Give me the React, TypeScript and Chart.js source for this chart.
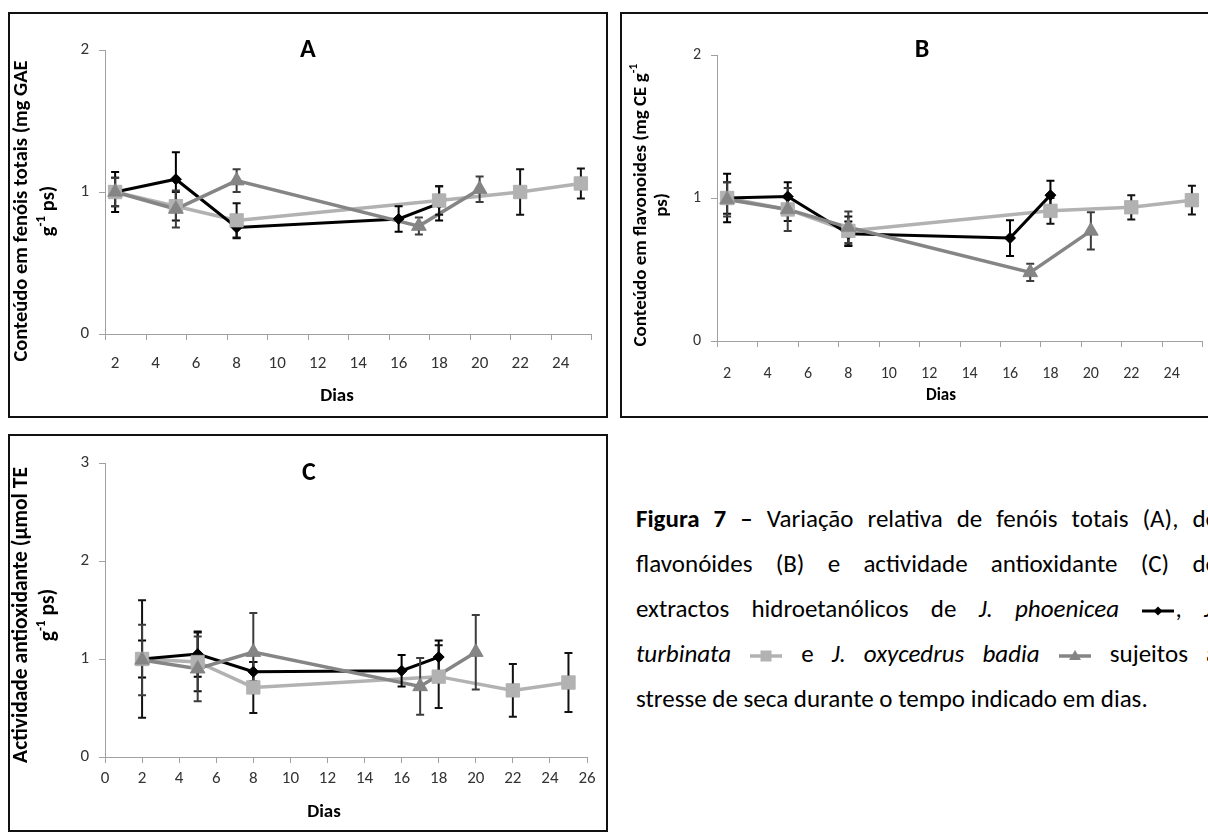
import React, { useEffect, useRef } from 'react';
import { Chart, registerables } from 'chart.js';

Chart.register(...registerables);

const FONT = 'Carlito, Calibri, Lato, "Liberation Sans", sans-serif';
Chart.defaults.font.family = FONT;

// ---------------- data ----------------
const daysPhoenicea = [2, 5, 8, 16, 18];
const daysTurbinata = [2, 5, 8, 18, 22, 25];
const daysOxycedrus = [2, 5, 8, 17, 20];

// A – fenóis totais
const phenolPhoenicea = [1.0, 1.09, 0.75, 0.81, 0.92];
const phenolPhoeniceaErr = [0.14, 0.19, 0.075, 0.09, 0.12];
const phenolTurbinata = [1.0, 0.9, 0.8, 0.94, 1.0, 1.06];
const phenolTurbinataErr = [0.1, 0.1, 0.12, 0.1, 0.16, 0.105];
const phenolOxycedrus = [1.0, 0.88, 1.08, 0.76, 1.02];
const phenolOxycedrusErr = [0.1, 0.13, 0.08, 0.06, 0.09];

// B – flavonoides
const flavPhoenicea = [1.0, 1.01, 0.75, 0.72, 1.02];
const flavPhoeniceaErr = [0.17, 0.1, 0.085, 0.125, 0.1];
const flavTurbinata = [1.0, 0.92, 0.77, 0.91, 0.935, 0.985];
const flavTurbinataErr = [0.11, 0.08, 0.1, 0.09, 0.085, 0.1];
const flavOxycedrus = [0.99, 0.92, 0.795, 0.48, 0.77];
const flavOxycedrusErr = [0.12, 0.15, 0.11, 0.06, 0.13];

// C – actividade antioxidante
const antiPhoenicea = [1.0, 1.05, 0.87, 0.88, 1.02];
const antiPhoeniceaErr = [0.19, 0.23, 0.1, 0.16, 0.17];
const antiTurbinata = [1.0, 0.97, 0.71, 0.82, 0.68, 0.76];
const antiTurbinataErr = [0.6, 0.3, 0.26, 0.32, 0.27, 0.3];
const antiOxycedrus = [0.99, 0.9, 1.07, 0.72, 1.07];
const antiOxycedrusErr = [0.36, 0.33, 0.4, 0.29, 0.38];

const xTickLabelsAB = [2, 4, 6, 8, 10, 12, 14, 16, 18, 20, 22, 24];
const xTickLabelsC = [0, 2, 4, 6, 8, 10, 12, 14, 16, 18, 20, 22, 24, 26];
const yTicksAB = [0, 1, 2];
const yTicksC = [0, 1, 2, 3];

const speciesNames = ['J. phoenicea', 'J. turbinata', 'J. oxycedrus badia'];

// ---------------- styles ----------------
const AXIS = '#a0a0a0';
const TICK = '#333333';
const C_PHOEN = '#000000';
const C_TURB = '#b2b2b2';
const C_OXY = '#858585';

type Seg = { t: string; sup?: boolean };
type Panel = {
  letter: string;
  w: number;
  h: number;
  area: { left: number; top: number; right: number; bottom: number };
  xMin: number;
  xMax: number;
  xLabels: number[];
  betweenTicks: boolean;
  yMax: number;
  yTicks: number[];
  xLabelPad: number;
  tickSize: number;
  titleSize: number;
  diasSize: number;
  series: { days: number[]; vals: number[]; err: number[] }[];
  yTitle: Seg[][];
  yTitleX: number[];
  yTitleY: number;
  letterPos: [number, number];
  diasPos: [number, number];
};

function drawSegs(ctx: CanvasRenderingContext2D, segs: Seg[], size: number) {
  const fonts = segs.map((s) => `bold ${s.sup ? Math.round(size * 0.62) : size}px ${FONT}`);
  let total = 0;
  const widths = segs.map((s, i) => {
    ctx.font = fonts[i];
    const w = ctx.measureText(s.t).width;
    total += w;
    return w;
  });
  let x = -total / 2;
  segs.forEach((s, i) => {
    ctx.font = fonts[i];
    ctx.fillText(s.t, x, s.sup ? -size * 0.36 : 0);
    x += widths[i];
  });
}

function makeConfig(p: Panel): any {
  const styles = [
    { color: C_PHOEN, style: 'rectRot', radius: 5.5, lw: 3, err: '#000000', order: 1 },
    { color: C_TURB, style: 'rect', radius: 9.5, lw: 3.5, err: '#111111', order: 2 },
    { color: C_OXY, style: 'triangle', radius: 8.5, lw: 3.5, err: '#3c3c3c', order: 0 },
  ];
  const datasets = p.series.map((s, i) => ({
    label: speciesNames[i],
    data: s.days.map((d, j) => ({ x: d, y: s.vals[j] })),
    errors: s.err,
    errColor: styles[i].err,
    showLine: true,
    borderColor: styles[i].color,
    backgroundColor: styles[i].color,
    borderWidth: styles[i].lw,
    pointStyle: styles[i].style,
    pointRadius: styles[i].radius,
    pointHoverRadius: styles[i].radius,
    pointBorderWidth: 0.5,
    pointBorderColor: styles[i].color,
    pointBackgroundColor: styles[i].color,
    tension: 0,
    order: styles[i].order,
    clip: false,
  }));

  const decor = {
    id: 'decor',
    afterDatasetsDraw(chart: any) {
      const ctx = chart.ctx as CanvasRenderingContext2D;
      const xs = chart.scales.x;
      const ys = chart.scales.y;
      chart.data.datasets.forEach((ds: any) => {
        ctx.save();
        ctx.strokeStyle = ds.errColor;
        ctx.lineWidth = 2;
        ds.data.forEach((pt: any, j: number) => {
          const e = ds.errors[j];
          const x = xs.getPixelForValue(pt.x);
          const y1 = ys.getPixelForValue(pt.y + e);
          const y2 = ys.getPixelForValue(pt.y - e);
          ctx.beginPath();
          ctx.moveTo(x, y1);
          ctx.lineTo(x, y2);
          ctx.moveTo(x - 4, y1);
          ctx.lineTo(x + 4, y1);
          ctx.moveTo(x - 4, y2);
          ctx.lineTo(x + 4, y2);
          ctx.stroke();
        });
        ctx.restore();
      });
      [0, 1, 2].forEach((i) => {
        chart.getDatasetMeta(i).data.forEach((el: any) => el.draw(ctx, chart.chartArea));
      });
    },
    afterDraw(chart: any) {
      const ctx = chart.ctx as CanvasRenderingContext2D;
      const xs = chart.scales.x;
      const area = chart.chartArea;
      ctx.save();
      if (p.betweenTicks) {
        ctx.strokeStyle = AXIS;
        ctx.lineWidth = 1;
        for (let v = p.xMin; v <= p.xMax + 1e-6; v += 2) {
          const px = Math.round(xs.getPixelForValue(v)) + 0.5;
          ctx.beginPath();
          ctx.moveTo(px, area.bottom);
          ctx.lineTo(px, area.bottom + 6);
          ctx.stroke();
        }
      }
      ctx.fillStyle = '#000';
      ctx.textAlign = 'center';
      ctx.textBaseline = 'middle';
      ctx.font = `bold 26px ${FONT}`;
      ctx.fillText(p.letter, p.letterPos[0], p.letterPos[1]);
      ctx.font = `bold ${p.diasSize}px ${FONT}`;
      ctx.fillText('Dias', p.diasPos[0], p.diasPos[1]);
      ctx.textAlign = 'left';
      p.yTitle.forEach((line, i) => {
        ctx.save();
        ctx.translate(p.yTitleX[i], p.yTitleY);
        ctx.rotate(-Math.PI / 2);
        drawSegs(ctx, line, p.titleSize);
        ctx.restore();
      });
      ctx.restore();
    },
  };

  return {
    type: 'scatter',
    data: { datasets },
    plugins: [decor],
    options: {
      responsive: false,
      animation: false,
      events: [],
      layout: { padding: { left: 0, top: p.area.top, right: p.w - p.area.right, bottom: 0 } },
      plugins: { legend: { display: false }, tooltip: { enabled: false }, title: { display: false } },
      scales: {
        x: {
          type: 'linear',
          min: p.xMin,
          max: p.xMax,
          afterBuildTicks: (s: any) => {
            s.ticks = p.xLabels.map((v) => ({ value: v }));
          },
          afterFit: (s: any) => {
            s.height = p.h - p.area.bottom;
          },
          grid: {
            display: true,
            drawOnChartArea: false,
            drawTicks: !p.betweenTicks,
            tickLength: 6,
            color: AXIS,
          },
          border: { display: true, color: AXIS, width: 1 },
          ticks: {
            font: { size: p.tickSize },
            color: TICK,
            padding: p.xLabelPad,
            maxRotation: 0,
            autoSkip: false,
            callback: (v: any) => String(v),
          },
        },
        y: {
          type: 'linear',
          min: 0,
          max: p.yMax,
          afterBuildTicks: (s: any) => {
            s.ticks = p.yTicks.map((v) => ({ value: v }));
          },
          afterFit: (s: any) => {
            s.width = p.area.left;
          },
          grid: { display: true, drawOnChartArea: false, drawTicks: true, tickLength: 6, color: AXIS },
          border: { display: true, color: AXIS, width: 1 },
          ticks: { font: { size: p.tickSize }, color: TICK, padding: 10, callback: (v: any) => String(v) },
        },
      },
    },
  };
}

const panelA: Panel = {
  letter: 'A',
  w: 600,
  h: 406,
  area: { left: 97, top: 38, right: 583, bottom: 322 },
  xMin: 1.5,
  xMax: 25.5,
  xLabels: xTickLabelsAB,
  betweenTicks: true,
  yMax: 2,
  yTicks: yTicksAB,
  xLabelPad: 20,
  tickSize: 17,
  titleSize: 20.5,
  diasSize: 19,
  series: [
    { days: daysPhoenicea, vals: phenolPhoenicea, err: phenolPhoeniceaErr },
    { days: daysTurbinata, vals: phenolTurbinata, err: phenolTurbinataErr },
    { days: daysOxycedrus, vals: phenolOxycedrus, err: phenolOxycedrusErr },
  ],
  yTitle: [[{ t: 'Conteúdo em fenóis totais (mg GAE' }], [{ t: 'g' }, { t: '-1', sup: true }, { t: ' ps)' }]],
  yTitleX: [14, 41],
  yTitleY: 199,
  letterPos: [300, 38],
  diasPos: [329, 384],
};

const panelB: Panel = {
  letter: 'B',
  w: 600,
  h: 406,
  area: { left: 97, top: 43, right: 582, bottom: 329 },
  xMin: 1.5,
  xMax: 25.5,
  xLabels: xTickLabelsAB,
  betweenTicks: true,
  yMax: 2,
  yTicks: yTicksAB,
  xLabelPad: 23,
  tickSize: 16,
  titleSize: 19,
  diasSize: 17,
  series: [
    { days: daysPhoenicea, vals: flavPhoenicea, err: flavPhoeniceaErr },
    { days: daysTurbinata, vals: flavTurbinata, err: flavTurbinataErr },
    { days: daysOxycedrus, vals: flavOxycedrus, err: flavOxycedrusErr },
  ],
  yTitle: [[{ t: 'Conteúdo em flavonoides (mg CE g' }, { t: '-1', sup: true }], [{ t: 'ps)' }]],
  yTitleX: [21, 42],
  yTitleY: 193,
  letterPos: [302, 38],
  diasPos: [321, 384],
};

const panelC: Panel = {
  letter: 'C',
  w: 600,
  h: 398,
  area: { left: 97, top: 29, right: 579, bottom: 323 },
  xMin: 0,
  xMax: 26,
  xLabels: xTickLabelsC,
  betweenTicks: false,
  yMax: 3,
  yTicks: yTicksC,
  xLabelPad: 6,
  tickSize: 17,
  titleSize: 21.5,
  diasSize: 19,
  series: [
    { days: daysPhoenicea, vals: antiPhoenicea, err: antiPhoeniceaErr },
    { days: daysTurbinata, vals: antiTurbinata, err: antiTurbinataErr },
    { days: daysOxycedrus, vals: antiOxycedrus, err: antiOxycedrusErr },
  ],
  yTitle: [[{ t: 'Actividade antioxidante (µmol TE' }], [{ t: 'g' }, { t: '-1', sup: true }, { t: ' ps)' }]],
  yTitleX: [14, 41],
  yTitleY: 181,
  letterPos: [301, 39],
  diasPos: [316, 378],
};

function PanelChart({ panel, left, top }: { panel: Panel; left: number; top: number }) {
  const ref = useRef<HTMLCanvasElement>(null);
  useEffect(() => {
    const chart = new Chart(ref.current as HTMLCanvasElement, makeConfig(panel));
    return () => chart.destroy();
  }, []);
  return (
    <>
      <canvas
        ref={ref}
        width={panel.w}
        height={panel.h}
        style={{ position: 'absolute', left, top, width: panel.w, height: panel.h }}
      />
      <div
        style={{
          position: 'absolute',
          left,
          top,
          width: panel.w,
          height: panel.h,
          border: '2px solid #111',
          boxSizing: 'border-box',
          pointerEvents: 'none',
        }}
      />
    </>
  );
}

function Marker({ kind }: { kind: 'd' | 's' | 't' }) {
  const color = kind === 'd' ? C_PHOEN : kind === 's' ? C_TURB : C_OXY;
  return (
    <svg width={34} height={18} style={{ verticalAlign: 'middle', display: 'inline-block' }}>
      <line x1={1} y1={9} x2={33} y2={9} stroke={color} strokeWidth={kind === 'd' ? 3 : 3.5} />
      {kind === 'd' && <polygon points="17,4.5 21.5,9 17,13.5 12.5,9" fill={color} />}
      {kind === 's' && <rect x={11.5} y={3.5} width={11} height={11} fill={color} />}
      {kind === 't' && <polygon points="17,3 23,13 11,13" fill={color} />}
    </svg>
  );
}

const lineStyle: React.CSSProperties = {
  height: 45,
  lineHeight: '45px',
  textAlign: 'justify',
  textAlignLast: 'justify' as any,
  whiteSpace: 'normal',
};

export default function App() {
  return (
    <div
      style={{
        position: 'fixed',
        left: 0,
        top: 0,
        width: 1208,
        height: 836,
        overflow: 'hidden',
        background: '#fff',
        fontFamily: FONT,
      }}
    >
      <PanelChart panel={panelA} left={8} top={12} />
      <PanelChart panel={panelB} left={620} top={12} />
      <PanelChart panel={panelC} left={8} top={434} />
      <div style={{ position: 'absolute', left: 636, top: 496, width: 582, fontSize: 25, color: '#000' }}>
        <div style={lineStyle}>
          <b>Figura 7 –</b> Variação relativa de fenóis totais (A), de
        </div>
        <div style={lineStyle}>flavonóides (B) e actividade antioxidante (C) de</div>
        <div style={lineStyle}>
          extractos hidroetanólicos de <i>J. phoenicea</i> <Marker kind="d" />, <i>J.</i>
        </div>
        <div style={lineStyle}>
          <i>turbinata</i> <Marker kind="s" /> e <i>J. oxycedrus badia</i> <Marker kind="t" /> sujeitos a
        </div>
        <div style={{ ...lineStyle, textAlign: 'left', textAlignLast: 'left' as any }}>
          stresse de seca durante o tempo indicado em dias.
        </div>
      </div>
    </div>
  );
}
